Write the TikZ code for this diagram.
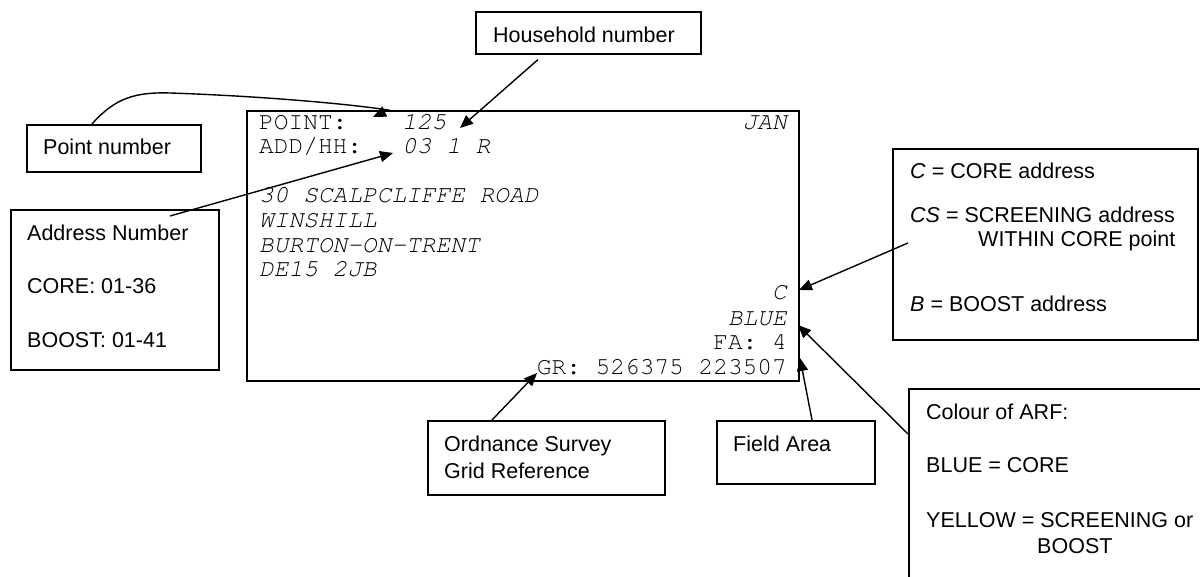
\documentclass[tikz,border=0pt]{standalone}
\usepackage{fontspec}
\setmainfont{Liberation Sans}
\newfontfamily\cardfont{texgyrecursor}[Extension=.otf, UprightFont=*-regular, ItalicFont=*-italic, BoldFont=*-bold]
\usetikzlibrary{arrows.meta,calc}
\begin{document}
\begin{tikzpicture}[x=1pt,y=-1pt,
  bx/.style={draw, line width=1.6pt, inner sep=0pt, anchor=north west},
  lbl/.style={inner sep=0pt, anchor=base west, font=\fontsize{21.5}{26}\selectfont},
  crd/.style={inner sep=0pt, anchor=base west, font=\cardfont\fontsize{24.5}{25}\selectfont},
  crdr/.style={crd, anchor=base east},
  arr/.style={line width=1.4pt, -{Triangle[length=13pt,width=11pt]}}]
\useasboundingbox (0,0) rectangle (1200,577);

% boxes
\node[bx, minimum width=552pt, minimum height=270pt] (card) at (246,110) {};
\node[bx, minimum width=225pt, minimum height=42pt] (hh) at (475,11) {};
\node[bx, minimum width=174pt, minimum height=47pt] (pn) at (26,124) {};
\node[bx, minimum width=208pt, minimum height=160pt] (an) at (10,209) {};
\node[bx, minimum width=237pt, minimum height=74pt] (os) at (427,420) {};
\node[bx, minimum width=158pt, minimum height=63pt] (fa) at (716,420) {};
\node[bx, minimum width=305pt, minimum height=191pt] (cc) at (892,148) {};
\node[bx, minimum width=330pt, minimum height=230pt] (arf) at (908,388) {};

% callout texts
\node[lbl] (thh) at (493,43) {Household number};
\node[lbl] (tpn) at (43,155) {Point number};
\node[lbl] (tan1) at (27,241) {Address Number};
\node[lbl] (tan2) at (27,294) {CORE: 01-36};
\node[lbl] (tan3) at (27,348) {BOOST: 01-41};
\node[lbl] (tos1) at (444,451) {Ordnance Survey};
\node[lbl] (tos2) at (444,478) {Grid Reference};
\node[lbl] (tfa) at (733,451) {Field Area};
\node[lbl] (tcc1) at (910,179) {\textit{C} = CORE address};
\node[lbl] (tcc2) at (910,223) {\textit{CS} = SCREENING address};
\node[lbl] (tcc3) at (978,247) {WITHIN CORE point};
\node[lbl] (tcc4) at (910,312) {\textit{B} = BOOST address};
\node[lbl] (tarf1) at (926,419) {Colour of ARF:};
\node[lbl] (tarf2) at (926,472) {BLUE = CORE};
\node[lbl] (tarf3) at (926,527) {YELLOW = SCREENING or};
\node[lbl] (tarf4) at (1037,553) {BOOST};

% card texts
\node[crd] (k1) at (259,130) {POINT:};
\node[crd] (k2) at (402,130) {\itshape 125};
\node[crdr] (k3) at (787,130) {\itshape JAN};
\node[crd] (k4) at (259,154) {ADD/HH:};
\node[crd] (k5) at (402,154) {\itshape 03 1 R};
\node[crd] (k6) at (259,203) {\itshape 30 SCALPCLIFFE ROAD};
\node[crd] (k7) at (259,228) {\itshape WINSHILL};
\node[crd] (k8) at (259,253) {\itshape BURTON-ON-TRENT};
\node[crd] (k9) at (259,277) {\itshape DE15 2JB};
\node[crdr] (k10) at (787,300) {\itshape C};
\node[crdr] (k11) at (787,326) {\itshape BLUE};
\node[crdr] (k12) at (787,350) {FA: 4};
\node[crdr] (k13) at (787,375) {GR: 526375 223507};

% arrow tips
\coordinate (tPN) at (373,117);
\coordinate (tAN) at (393,153);
\coordinate (tHH) at (460,128);
\coordinate (tOS) at (537,373);
\coordinate (tFA) at (800,358);
\coordinate (tBL) at (798,325);
\coordinate (tC) at (799,290);

% connectors
\draw[arr] ($(pn.north west)+(66,0)$) .. controls (115,98) and (135,92) .. (170,93)
   .. controls (260,96) and (350,104) .. (388,110) -- (tPN);
\draw[arr] ($(an.north west)+(160,7)$) -- (tAN);
\draw[arr] ($(hh.south west)+(63,5)$) -- (tHH);
\draw[arr] ($(os.north west)+(65,0)$) -- (tOS);
\draw[arr] ($(fa.north west)+(96,0)$) -- (tFA);
\draw[arr] ($(arf.north west)+(0,46)$) -- (tBL);
\draw[arr] ($(cc.north west)+(16,95)$) -- (tC);
\end{tikzpicture}
\end{document}
